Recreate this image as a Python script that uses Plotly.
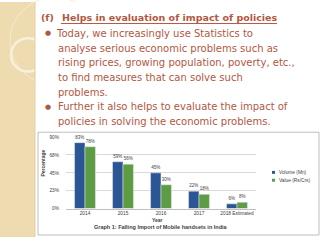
import plotly.graph_objects as go

# ---- data ----
years = ["2014", "2015", "2016", "2017", "2018 Estimated"]
volume_mn = [83, 59, 45, 22, 6]
value_rs = [78, 56, 30, 18, 8]
series_names = ["Volume (Mn)", "Value (Rs/Crs)"]
y_tickvals = [0, 22.5, 45, 67.5, 90]
y_ticktext = ["0%", "23%", "45%", "68%", "90%"]

heading = "(f)"
heading_ul = "Helps in evaluation of impact of policies"
bullet1 = ["Today, we increasingly use Statistics to",
           "analyse serious economic problems such as",
           "rising prices, growing population, poverty, etc.,",
           "to find measures that can solve such",
           "problems."]
bullet2 = ["Further it also helps to evaluate the impact of",
           "policies in solving the economic problems."]
chart_title = "Graph 1: Falling Import of Mobile handsets in India"

W, H = 320, 240
TXT = "#B2573F"
FONT = "DejaVu Sans"
BLUE = "#2B5595"
GREEN = "#5E9C43"

def px(x):
    return x / W

def py(y):
    return 1 - y / H

fig = go.Figure()
fig.add_trace(go.Bar(x=years, y=volume_mn, name=series_names[0], marker_color=BLUE,
                     text=[f"{v}%" for v in volume_mn], textposition="outside",
                     textfont=dict(size=4.5, color="#404040", family="Liberation Sans"),
                     cliponaxis=False))
fig.add_trace(go.Bar(x=years, y=value_rs, name=series_names[1], marker_color=GREEN,
                     text=[f"{v}%" for v in value_rs], textposition="outside",
                     textfont=dict(size=4.5, color="#404040", family="Liberation Sans"),
                     cliponaxis=False))

shapes = []
# left beige strip
shapes.append(dict(type="rect", xref="paper", yref="paper", x0=0, x1=px(35), y0=0, y1=1,
                   fillcolor="#EEDBAF", line=dict(width=0), layer="below"))
# decorative circles
shapes.append(dict(type="circle", xref="paper", yref="paper", x0=px(10), x1=px(100), y0=py(85), y1=py(-5),
                   line=dict(color="#F6EBD2", width=1), layer="below"))
shapes.append(dict(type="circle", xref="paper", yref="paper", x0=px(11), x1=px(45), y0=py(37), y1=py(71),
                   line=dict(color="#F8F0DE", width=2.5), layer="below"))
# white content area covering circles
shapes.append(dict(type="rect", xref="paper", yref="paper", x0=px(35.5), x1=1, y0=0, y1=1,
                   fillcolor="white", line=dict(width=0), layer="below"))
shapes.append(dict(type="line", xref="paper", yref="paper", x0=px(35), x1=px(35), y0=0, y1=1,
                   line=dict(color="#E4CE9E", width=1), layer="below"))
# chart box
shapes.append(dict(type="rect", xref="paper", yref="paper", x0=px(38), x1=px(319), y0=py(238), y1=py(133),
                   fillcolor="white", line=dict(color="#BFBFBF", width=1), layer="below"))

annotations = []
def txt(x, y, s, size=10.0, color=TXT, **kw):
    annotations.append(dict(x=px(x), y=py(y), xref="paper", yref="paper", text=s, showarrow=False,
                            xanchor=kw.pop("xanchor", "left"), yanchor="middle",
                            font=dict(family=kw.pop("family", FONT), size=size, color=color), **kw))

txt(39, 16, "<b>" + heading + "</b>", size=9.5)
txt(60, 16, "<b>" + heading_ul + "</b>", size=9.5)
shapes.append(dict(type="line", xref="paper", yref="paper", x0=px(61), x1=px(277), y0=py(22), y1=py(22),
                   line=dict(color=TXT, width=1)))
ys1 = [32, 47, 62, 77, 92]
txt(43, 32, "●", size=7)
for i, line in enumerate(bullet1):
    txt(54 if i == 0 else 56, ys1[i], line)
ys2 = [107, 122]
txt(43, 107, "●", size=7)
for i, line in enumerate(bullet2):
    txt(56, ys2[i], line)

# chart texts
txt(43, 165, "<b>Percentage</b>", size=5, color="#404040", xanchor="center", textangle=-90,
    family="Liberation Sans")
txt(157, 223, "<b>Year</b>", size=5, color="#404040", xanchor="center", family="Liberation Sans")
txt(161, 230, "<b>" + chart_title + "</b>", size=5.5, color="#404040", xanchor="center",
    family="Liberation Sans")
# legend
for i, (nm, col) in enumerate(zip(series_names, [BLUE, GREEN])):
    yy = 174 + 8 * i
    shapes.append(dict(type="rect", xref="paper", yref="paper", x0=px(272), x1=px(275), y0=py(yy + 1.5),
                       y1=py(yy - 1.5), fillcolor=col, line=dict(width=0)))
    txt(277, yy, nm, size=4.8, color="#404040", family="Liberation Sans")

fig.update_layout(
    width=W, height=H, margin=dict(l=0, r=0, t=0, b=0),
    paper_bgcolor="white", plot_bgcolor="white",
    barmode="group", bargap=0.45, bargroupgap=0,
    showlegend=False,
    shapes=shapes, annotations=annotations,
    xaxis=dict(domain=[px(66), px(256)], showline=True, linecolor="#BFBFBF", ticks="",
               tickfont=dict(size=4.8, color="#404040", family="Liberation Sans"),
               anchor="y", fixedrange=True),
    yaxis=dict(domain=[py(211), py(138)], range=[0, 90], tickvals=y_tickvals, ticktext=y_ticktext,
               showgrid=True, gridcolor="#D9D9D9", gridwidth=1, zeroline=False, showline=False,
               tickfont=dict(size=4.8, color="#404040", family="Liberation Sans"),
               ticklabelstandoff=6, fixedrange=True),
)
fig.write_html("out.html")
